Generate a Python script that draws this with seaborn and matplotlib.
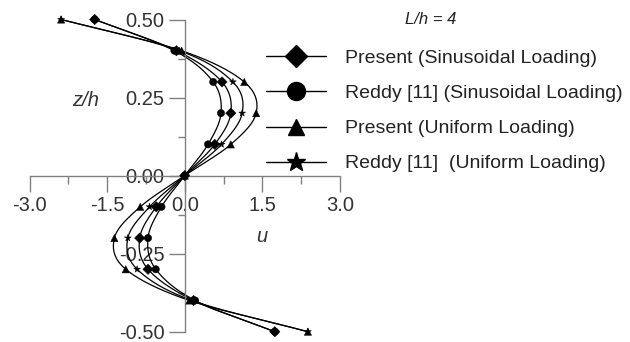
import numpy as np
import pandas as pd
import seaborn as sns
import matplotlib.pyplot as plt
from matplotlib.lines import Line2D

# through-thickness positions z/h
z = [0.5, 0.4, 0.3, 0.2, 0.1, 0.0, -0.1, -0.2, -0.3, -0.4, -0.5]

# in-plane displacement u
u_present_sin = [-1.74, -0.16, 0.72, 0.89, 0.58, 0.0, -0.55, -0.87, -0.71, 0.17, 1.74]
u_reddy_sin = [-1.74, -0.20, 0.55, 0.70, 0.45, 0.0, -0.45, -0.71, -0.56, 0.20, 1.74]
u_present_uni = [-2.39, -0.06, 1.15, 1.38, 0.89, 0.0, -0.86, -1.36, -1.14, 0.09, 2.38]
u_reddy_uni = [-2.39, -0.10, 0.93, 1.11, 0.71, 0.0, -0.68, -1.10, -0.92, 0.14, 2.38]

labels = ['Present (Sinusoidal Loading)', 'Reddy [11] (Sinusoidal Loading)',
          'Present (Uniform Loading)', 'Reddy [11]  (Uniform Loading)']
markers = ['D', 'o', '^', '*']
series = [u_present_sin, u_reddy_sin, u_present_uni, u_reddy_uni]

df = pd.concat([pd.DataFrame({'z': z, 'u': s, 'series': lab})
                for s, lab in zip(series, labels)], ignore_index=True)


def smooth(zs, us, n=20):
    # cubic Hermite curve u(z) through the data points
    zs = np.asarray(zs)[::-1]
    us = np.asarray(us)[::-1]
    m = np.gradient(us, zs)
    zz, uu = [], []
    for i in range(len(zs) - 1):
        h = zs[i + 1] - zs[i]
        t = np.linspace(0, 1, n, endpoint=False)
        h00 = 2 * t**3 - 3 * t**2 + 1
        h10 = t**3 - 2 * t**2 + t
        h01 = -2 * t**3 + 3 * t**2
        h11 = t**3 - t**2
        zz.append(zs[i] + t * h)
        uu.append(h00 * us[i] + h10 * h * m[i] + h01 * us[i + 1] + h11 * h * m[i + 1])
    zz.append([zs[-1]])
    uu.append([us[-1]])
    return np.concatenate(zz), np.concatenate(uu)


sns.set_style('white')
plt.rcParams['font.family'] = ['Liberation Sans', 'DejaVu Sans']

fig = plt.figure(figsize=(6.3, 3.42), dpi=100)
ax = fig.add_axes([29.5 / 630, 10.3 / 342, 310.5 / 630, 312.2 / 342])

for s in series:
    zz, uu = smooth(z, s)
    ax.plot(uu, zz, color='black', lw=0.9, zorder=2, clip_on=False)

sns.scatterplot(data=df, x='u', y='z', style='series', markers=dict(zip(labels, markers)),
                color='black', s=28, edgecolor='black', linewidth=0.3, legend=False,
                ax=ax, zorder=3, clip_on=False)

ax.set_xlim(-3, 3)
ax.set_ylim(-0.5, 0.5)
ax.set_xticks([-3.0, -1.5, 0.0, 1.5, 3.0])
ax.set_xticks([-2.25, -0.75, 0.75, 2.25], minor=True)
ax.set_yticks([-0.5, -0.25, 0.0, 0.25, 0.5])
ax.set_yticks([-0.375, -0.125, 0.125, 0.375], minor=True)
ax.set_xticklabels(['-3.0', '-1.5', '0.0', '1.5', '3.0'])
ax.set_yticklabels(['-0.50', '-0.25', '0.00', '0.25', '0.50'])
ax.set_xlabel('')
ax.set_ylabel('')

for side in ['top', 'right']:
    ax.spines[side].set_visible(False)
ax.spines['left'].set_position(('data', 0))
ax.spines['bottom'].set_position(('data', 0))
for side in ['left', 'bottom']:
    ax.spines[side].set_color('#808080')
    ax.spines[side].set_linewidth(1.0)
ax.tick_params(which='major', length=11.5, width=1.0, color='#808080',
               labelsize=14.5, labelcolor='#333333', pad=3,
               bottom=True, left=True, direction='out')
ax.tick_params(which='minor', length=5.4, width=1.0, color='#808080',
               bottom=True, left=True, direction='out')
ax.patch.set_alpha(0)

fig.text(86 / 630, 1 - 101 / 342, 'z/h', style='italic', fontsize=14.5,
         color='#333333', ha='center', va='center')
fig.text(262 / 630, 1 - 236 / 342, 'u', style='italic', fontsize=14.5,
         color='#333333', ha='center', va='center')
fig.text(431 / 630, 1 - 20 / 342, 'L/h = 4', style='italic', fontsize=12,
         color='#222222', ha='center', va='center')

handles = [Line2D([], [], color='black', lw=1.0, marker=m, markersize=ms,
                  markerfacecolor='black', markeredgecolor='black')
           for m, ms in zip(markers, [11, 13, 12, 14])]
fig.legend(handles, labels, loc='upper left', bbox_to_anchor=(248 / 630, 1 - 32 / 342),
           frameon=False, fontsize=14.0, handlelength=3.1, handletextpad=1.0,
           labelspacing=0.9, borderpad=0.4, labelcolor='#222222')

fig.savefig('out.png', dpi=100)
